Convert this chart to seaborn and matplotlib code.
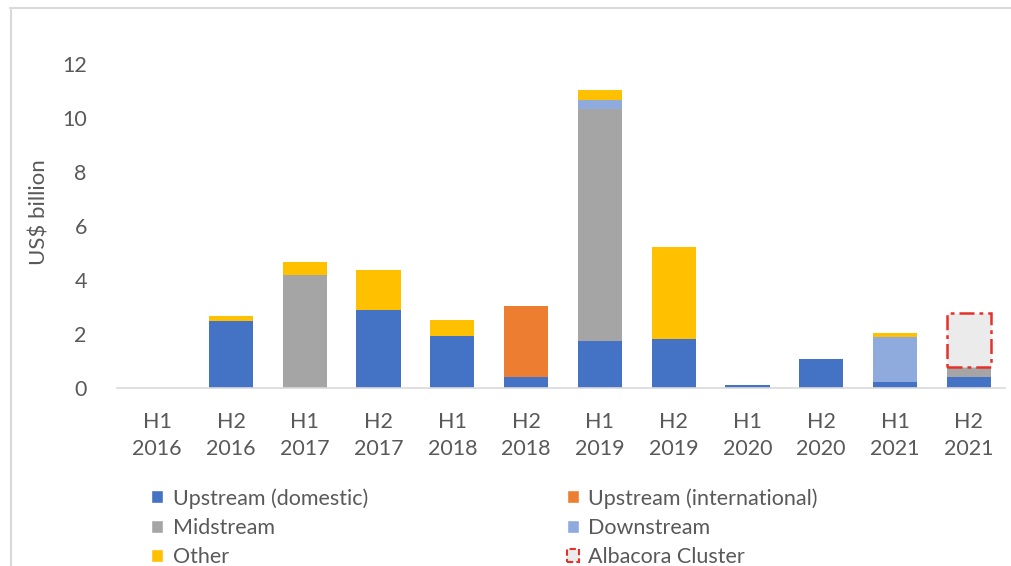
import matplotlib
matplotlib.use("Agg")
import matplotlib.pyplot as plt
from matplotlib.lines import Line2D
from matplotlib.patches import Patch
import numpy as np
import pandas as pd
import seaborn as sns

# Half-year periods
periods = ["H1\n2016", "H2\n2016", "H1\n2017", "H2\n2017", "H1\n2018", "H2\n2018",
           "H1\n2019", "H2\n2019", "H1\n2020", "H2\n2020", "H1\n2021", "H2\n2021"]

# Deal value by segment, US$ billion
upstream_domestic = [0.0, 2.48, 0.0, 2.89, 1.93, 0.41, 1.74, 1.81, 0.10, 1.06, 0.24, 0.39]
upstream_international = [0.0, 0.0, 0.0, 0.0, 0.0, 2.63, 0.0, 0.0, 0.0, 0.0, 0.0, 0.0]
midstream = [0.0, 0.0, 4.19, 0.0, 0.0, 0.0, 8.59, 0.0, 0.0, 0.0, 0.0, 0.40]
downstream = [0.0, 0.0, 0.0, 0.0, 0.0, 0.0, 0.33, 0.0, 0.0, 0.0, 1.65, 0.0]
other = [0.0, 0.19, 0.48, 1.48, 0.59, 0.0, 0.39, 3.42, 0.0, 0.0, 0.16, 0.0]
albacora_period = ["H2\n2021"]
albacora_cluster = [2.00]

series_names = ["Upstream (domestic)", "Upstream (international)", "Midstream",
                "Downstream", "Other"]
series_values = [upstream_domestic, upstream_international, midstream, downstream, other]
series_colors = ["#4472C4", "#ED7D31", "#A5A5A5", "#8FAADC", "#FFC000"]

sns.set_theme(style="white")
plt.rcParams["font.family"] = ["Lato", "DejaVu Sans"]
FS = 15.5
TXT = "#595959"

fig = plt.figure(figsize=(10.12, 5.66), dpi=100)
ax = fig.add_axes([0.116, 0.3145, 0.877, 0.62])

bottom = np.zeros(len(periods))
for name, vals, col in zip(series_names, series_values, series_colors):
    df = pd.DataFrame({"period": periods, "value": vals})
    sns.barplot(data=df, x="period", y="value", order=periods, color=col,
                bottom=bottom.copy(), width=0.6, linewidth=0, errorbar=None,
                saturation=1, ax=ax)
    bottom += np.array(vals)

# Albacora cluster outlined on top of the H2 2021 stack
alb_bottom = [bottom[periods.index(p)] for p in albacora_period]
df_alb = pd.DataFrame({"period": albacora_period, "value": albacora_cluster})
sns.barplot(data=df_alb, x="period", y="value", order=periods, color="#EBEBEB",
            bottom=alb_bottom, width=0.6, edgecolor="#E8302A", linewidth=1.8,
            linestyle=(0, (6, 2, 1.5, 2)), errorbar=None, saturation=1, ax=ax)

ax.set_xlim(-0.54, 11.49)
ax.set_ylim(0, 13)
ax.set_yticks([0, 2, 4, 6, 8, 10, 12])
ax.set_xlabel("")
ax.set_ylabel("US$ billion", fontsize=FS + 0.5, color=TXT, labelpad=9)
ax.tick_params(axis="both", labelsize=FS, labelcolor=TXT, length=0)
ax.tick_params(axis="x", pad=17)
ax.tick_params(axis="y", pad=22)
for lbl in ax.get_xticklabels():
    lbl.set_linespacing(1.45)
for side in ["top", "right", "left"]:
    ax.spines[side].set_visible(False)
ax.spines["bottom"].set_color("#D9D9D9")
ax.spines["bottom"].set_linewidth(1.2)
ax.grid(False)

handles = [
    Patch(facecolor=series_colors[0], label=series_names[0]),
    Patch(facecolor=series_colors[2], label=series_names[2]),
    Patch(facecolor=series_colors[4], label=series_names[4]),
    Patch(facecolor=series_colors[1], label=series_names[1]),
    Patch(facecolor=series_colors[3], label=series_names[3]),
    Patch(facecolor="#EBEBEB", edgecolor="#E8302A", linestyle=(0, (3, 1.5)),
          linewidth=1.5, label="Albacora Cluster"),
]
leg = fig.legend(handles=handles, ncol=2, loc="upper left",
                 bbox_to_anchor=(151 / 1012, 1 - 488 / 566), frameon=False,
                 fontsize=FS, handlelength=0.55, handleheight=0.55,
                 handletextpad=0.45, columnspacing=9.25, labelspacing=0.43,
                 borderaxespad=0, borderpad=0)
for t in leg.get_texts():
    t.set_color(TXT)

# Light frame along the top and left edges
fig.add_artist(Line2D([10 / 1012, 1.0], [1 - 7.5 / 566, 1 - 7.5 / 566],
                      transform=fig.transFigure, color="#D9D9D9", linewidth=1.5))
fig.add_artist(Line2D([10.5 / 1012, 10.5 / 1012], [0, 1 - 7.5 / 566],
                      transform=fig.transFigure, color="#D9D9D9", linewidth=1.5))

fig.savefig("out.png", dpi=100)
